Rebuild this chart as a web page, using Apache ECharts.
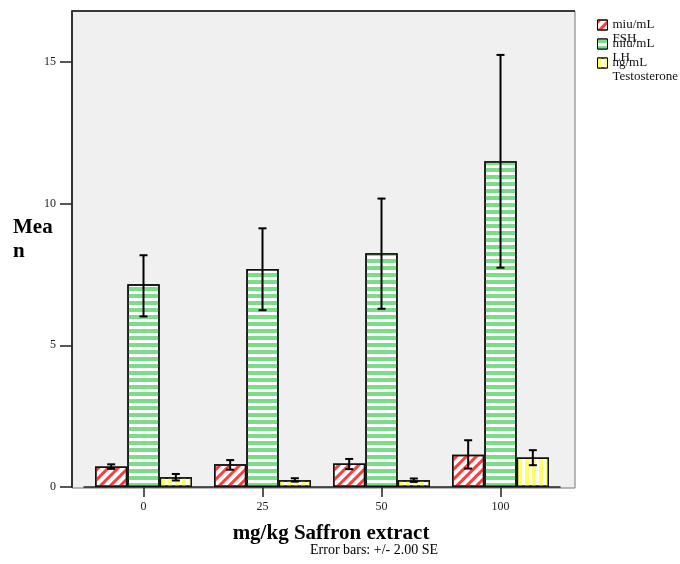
<!DOCTYPE html>
<html>
<head>
<meta charset="utf-8">
<script src="https://cdn.jsdelivr.net/npm/echarts@6/dist/echarts.min.js"></script>
<style>html,body{margin:0;padding:0;background:#fff}#c{width:680px;height:564px}</style>
</head>
<body>
<div id="c"></div>
<script>
var categories = ['0', '25', '50', '100'];
var seriesNames = ['miu/mL\nFSH', 'miu/mL\nLH', 'ng/mL\nTestosterone'];
var fshMean = [0.72, 0.80, 0.83, 1.14];
var fshLow  = [0.64, 0.61, 0.63, 0.65];
var fshHigh = [0.80, 0.95, 0.99, 1.65];
var lhMean  = [7.16, 7.69, 8.25, 11.50];
var lhLow   = [6.02, 6.24, 6.29, 7.74];
var lhHigh  = [8.18, 9.13, 10.18, 15.25];
var tMean   = [0.34, 0.24, 0.24, 1.04];
var tLow    = [0.23, 0.19, 0.18, 0.77];
var tHigh   = [0.46, 0.31, 0.30, 1.30];
var yTicks = [0, 5, 10, 15];
var yMax = 16.8;

var FONT = '"Liberation Serif", "Times New Roman", serif';
var CAT_GAP = 0.185;
var means = [fshMean, lhMean, tMean];
var lows = [fshLow, lhLow, tLow];
var highs = [fshHigh, lhHigh, tHigh];
var decals = [
  {symbol: 'rect', color: '#ff3b3b', dashArrayX: [1, 0], dashArrayY: [2.6, 3.2], rotation: -Math.PI / 4, symbolSize: 1},
  {symbol: 'rect', color: '#7ddc8a', dashArrayX: [1, 0], dashArrayY: [3.6, 2.6], rotation: 0, symbolSize: 1},
  {symbol: 'rect', color: '#ffff66', dashArrayX: [3.4, 3], dashArrayY: [1, 0], rotation: 0, symbolSize: 1}
];

var series = [];
for (var s = 0; s < 3; s++) {
  series.push({
    name: seriesNames[s],
    type: 'bar',
    data: means[s],
    barGap: '0%',
    barCategoryGap: (CAT_GAP * 100) + '%',
    itemStyle: {color: '#ffffff', borderColor: '#111', borderWidth: 1.5, decal: decals[s]},
    emphasis: {disabled: true},
    z: 2
  });
}
for (var s2 = 0; s2 < 3; s2++) {
  (function (si) {
    var d = [];
    for (var i = 0; i < categories.length; i++) d.push([i, lows[si][i], highs[si][i]]);
    series.push({
      type: 'custom',
      data: d,
      z: 5,
      silent: true,
      renderItem: function (params, api) {
        var idx = api.value(0);
        var lo = api.coord([idx, api.value(1)]);
        var hi = api.coord([idx, api.value(2)]);
        var catW = api.size([1, 0])[0];
        var barW = catW * (1 - CAT_GAP) / 3;
        var x = lo[0] + (si - 1) * barW;
        var cap = 4;
        var st = {stroke: '#000', lineWidth: 2};
        return {type: 'group', children: [
          {type: 'line', shape: {x1: x, y1: hi[1], x2: x, y2: lo[1]}, style: st},
          {type: 'line', shape: {x1: x - cap, y1: hi[1], x2: x + cap, y2: hi[1]}, style: st},
          {type: 'line', shape: {x1: x - cap, y1: lo[1], x2: x + cap, y2: lo[1]}, style: st}
        ]};
      }
    });
  })(s2);
}

var chart = echarts.init(document.getElementById('c'), null, {renderer: 'canvas'});
chart.setOption({
  animation: false,
  aria: {enabled: false},
  textStyle: {fontFamily: FONT},
  grid: {left: 84, right: 120, top: 11, bottom: 77, containLabel: false, outerBoundsMode: 'none'},
  graphic: [
    {type: 'rect', z: -10, silent: true, shape: {x: 72, y: 11, width: 503, height: 477},
     style: {fill: '#f0f0f0', stroke: '#777', lineWidth: 1}},
    {type: 'line', z: -9, silent: true, shape: {x1: 72, y1: 11, x2: 575, y2: 11},
     style: {stroke: '#111', lineWidth: 1.5}}
  ],
  title: {
    text: 'Error bars: +/- 2.00 SE',
    left: 305, top: 538,
    textStyle: {fontFamily: FONT, fontSize: 14, fontWeight: 'normal', color: '#000'}
  },
  legend: {
    orient: 'vertical',
    left: 597, top: 4,
    padding: 0,
    icon: 'rect',
    itemWidth: 10, itemHeight: 10,
    itemGap: -23,
    selectedMode: false,
    data: seriesNames,
    formatter: function (name) { return '\n' + name; },
    itemStyle: {borderColor: '#000', borderWidth: 1},
    textStyle: {fontFamily: FONT, fontSize: 13, color: '#111', lineHeight: 14}
  },
  xAxis: {
    type: 'category',
    data: categories,
    name: 'mg/kg Saffron extract',
    nameLocation: 'middle',
    nameGap: 36,
    nameMoveOverlap: false,
    nameTextStyle: {fontFamily: FONT, fontSize: 21, fontWeight: 'bold', color: '#000', padding: [0, 0, 0, 18]},
    axisLine: {lineStyle: {color: '#222', width: 1.5}},
    axisTick: {show: true, alignWithLabel: true, length: 10, lineStyle: {color: '#222', width: 1.5}},
    axisLabel: {fontFamily: FONT, fontSize: 12, color: '#222', margin: 14}
  },
  yAxis: {
    type: 'value',
    min: 0, max: yMax, interval: 5,
    offset: 12,
    name: '{a|Mea}\n{a|n}\n{e| }',
    nameLocation: 'middle',
    nameRotate: 0,
    nameGap: 59,
    nameMoveOverlap: false,
    nameTextStyle: {
      fontFamily: FONT, fontSize: 21, fontWeight: 'bold', color: '#000', align: 'left',
      rich: {
        a: {fontFamily: FONT, fontSize: 21, fontWeight: 'bold', color: '#000', lineHeight: 24},
        e: {fontFamily: FONT, fontSize: 10, lineHeight: 18}
      }
    },
    splitLine: {show: false},
    axisLine: {show: true, lineStyle: {color: '#333', width: 2}},
    axisTick: {show: true, length: 12, customValues: yTicks, lineStyle: {color: '#222', width: 1.5}},
    axisLabel: {fontFamily: FONT, fontSize: 12, color: '#222', margin: 16, customValues: yTicks}
  },
  series: series
});
</script>
</body>
</html>
